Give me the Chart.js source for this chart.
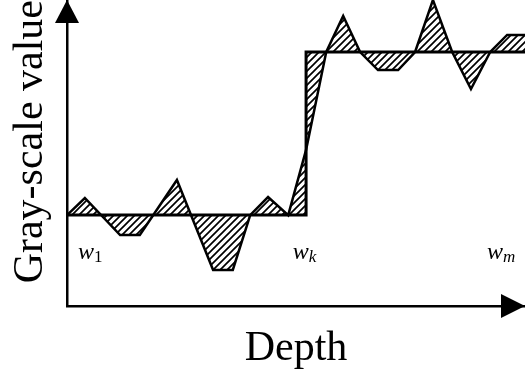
<!DOCTYPE html>
<html>
<head>
<meta charset="utf-8">
<script src="https://cdn.jsdelivr.net/npm/chart.js@4.4.1/dist/chart.umd.min.js"></script>
<style>
  html, body { margin: 0; padding: 0; background: #fff; }
  canvas { display: block; }
</style>
</head>
<body>
<canvas id="depthChart" width="525" height="376"></canvas>
<script>
  // step profile (ideal gray level per window)
  const stepDepth = [0, 52.2, 52.2, 100];
  const stepGray = [29.7, 29.7, 83, 83];

  // measured gray-scale profile
  const profileDepth = [0, 3.9, 11.6, 15.9, 24.0, 31.9, 36.2, 40.0, 43.9, 48.3, 52.2, 56.6, 60.3,
    64.0, 67.9, 72.3, 76.0, 79.9, 84.1, 88.2, 92.4, 96.1, 100];
  const profileGray = [29.7, 35.3, 23.2, 23.2, 41.2, 11.8, 11.8, 29.7, 35.6, 29.7, 51.0, 83.0, 94.8,
    83.0, 77.1, 77.1, 83.0, 100, 83.0, 70.9, 83.0, 88.6, 88.6];

  // window labels w_1, w_k, w_m
  const windowSub = ['1', 'k', 'm'];
  const windowDepth = [2.4, 49.3, 91.7];
  const windowGray = 15.4;

  const toPoints = (xs, ys) => xs.map((x, i) => ({ x: x, y: ys[i] }));

  // hatch pattern "////"
  function makeHatch() {
    const n = 7;
    const c = document.createElement('canvas');
    c.width = n; c.height = n;
    const g = c.getContext('2d');
    g.strokeStyle = '#000';
    g.lineWidth = 1.7;
    g.beginPath();
    g.moveTo(-1, n + 1); g.lineTo(n + 1, -1);
    g.moveTo(-n - 1, n + 1); g.lineTo(1, -1);
    g.moveTo(n - 1, n + 1); g.lineTo(2 * n + 1, -1);
    g.stroke();
    return g.createPattern(c, 'repeat');
  }
  const hatch = makeHatch();

  const serif = '"Liberation Serif", "Times New Roman", serif';

  // arrow heads + window labels
  const extrasPlugin = {
    id: 'extras',
    afterDraw(chart) {
      const { ctx, chartArea: a, scales: { x, y } } = chart;
      ctx.save();
      ctx.fillStyle = '#000';
      ctx.beginPath();
      ctx.moveTo(a.left, a.top);
      ctx.lineTo(a.left - 12, a.top + 23);
      ctx.lineTo(a.left + 12, a.top + 23);
      ctx.closePath();
      ctx.fill();
      ctx.beginPath();
      ctx.moveTo(a.right, a.bottom);
      ctx.lineTo(a.right - 24, a.bottom - 12);
      ctx.lineTo(a.right - 24, a.bottom + 12);
      ctx.closePath();
      ctx.fill();

      ctx.textBaseline = 'alphabetic';
      ctx.textAlign = 'left';
      windowSub.forEach((s, i) => {
        const px = x.getPixelForValue(windowDepth[i]);
        const py = y.getPixelForValue(windowGray);
        ctx.font = 'italic 24px ' + serif;
        ctx.fillText('w', px, py);
        const w = ctx.measureText('w').width;
        ctx.font = (s === '1' ? '' : 'italic ') + '17px ' + serif;
        ctx.fillText(s, px + w, py + 3);
      });
      ctx.restore();
    }
  };

  const ctx = document.getElementById('depthChart').getContext('2d');
  new Chart(ctx, {
    type: 'line',
    data: {
      datasets: [
        {
          label: 'step',
          data: toPoints(stepDepth, stepGray),
          borderColor: '#000',
          borderWidth: 3,
          pointRadius: 0,
          fill: false
        },
        {
          label: 'profile',
          data: toPoints(profileDepth, profileGray),
          borderColor: '#000',
          borderWidth: 2.5,
          pointRadius: 0,
          backgroundColor: hatch,
          fill: { target: 0, above: hatch, below: hatch }
        }
      ]
    },
    options: {
      responsive: false,
      animation: false,
      layout: { padding: 0 },
      plugins: { legend: { display: false }, tooltip: { enabled: false } },
      scales: {
        x: {
          type: 'linear', min: 0, max: 100,
          grid: { display: false, drawTicks: false },
          ticks: { display: false },
          border: { display: true, color: '#000', width: 2.5 },
          title: {
            display: true, text: 'Depth', color: '#000',
            font: { family: serif, size: 42, lineHeight: 1 },
            padding: { top: 22, bottom: 6 }
          }
        },
        y: {
          min: 0, max: 100,
          grid: { display: false, drawTicks: false },
          ticks: { display: false },
          border: { display: true, color: '#000', width: 2.5 },
          title: {
            display: true, text: 'Gray-scale value', color: '#000', align: 'end',
            font: { family: serif, size: 42, lineHeight: 1 },
            padding: { top: 10, bottom: 15 }
          }
        }
      }
    },
    plugins: [extrasPlugin]
  });
</script>
</body>
</html>
